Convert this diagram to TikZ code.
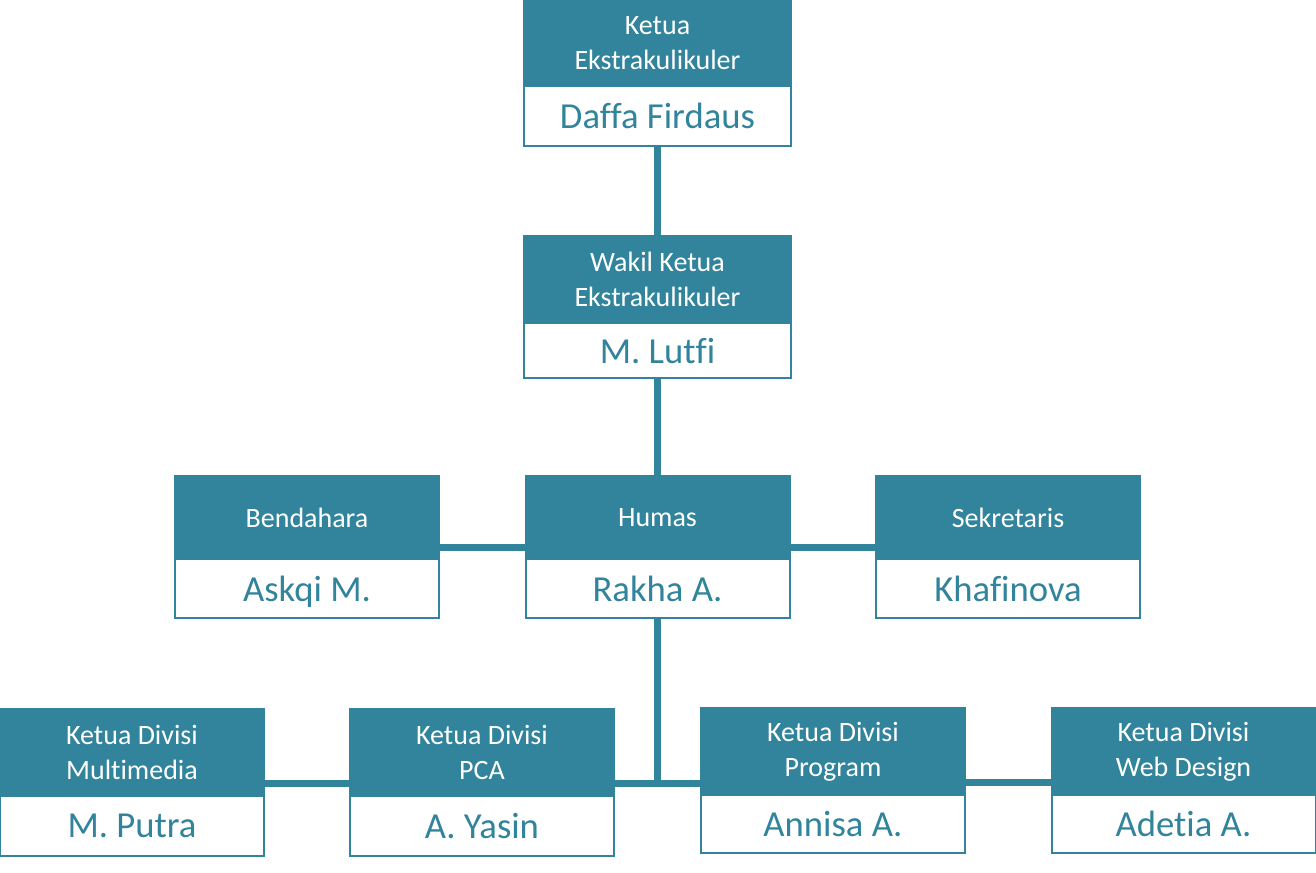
\documentclass[tikz,border=0pt]{standalone}
\usepackage{fontspec}
\setmainfont[Ligatures={NoCommon,NoContextual},RawFeature={-liga;-clig;-dlig;-calt}]{Carlito}
\usetikzlibrary{positioning}
\definecolor{orgteal}{HTML}{31849B}
\tikzset{
  kepala/.style={rectangle, fill=orgteal, draw=orgteal, line width=1.5pt,
    text=white, minimum width=198pt, minimum height=65.25pt, inner sep=0pt,
    outer sep=0pt, align=center, font=\fontsize{21}{26}\selectfont},
  nama/.style={rectangle, fill=white, draw=orgteal, line width=1.5pt,
    text=orgteal, minimum width=198pt, minimum height=45pt, inner sep=0pt,
    outer sep=0pt, text depth=0pt, font=\fontsize{27.5}{33}\selectfont},
  garis/.style={draw=orgteal, line width=5.25pt}
}

\begin{document}
\begin{tikzpicture}[x=0.75pt,y=-0.75pt]
      \useasboundingbox (0,0) rectangle (1316,872);
      % pimpinan
      \node[kepala, minimum width=200pt, minimum height=64.5pt] (ketua) at (657.5,43) {Ketua\\Ekstrakulikuler};
      \node[nama, minimum width=200pt, below=0pt of ketua] (ketua-nama) {Daffa Firdaus};
      \node[kepala, minimum width=200pt] (wakil) at (657.5,279.5) {Wakil Ketua\\Ekstrakulikuler};
      \node[nama, minimum width=200pt, minimum height=41.25pt, below=0pt of wakil] (wakil-nama) {M. Lutfi};
      % pengurus inti
      \node[kepala, minimum height=62.25pt] (humas) at (657.5,517.5) {Humas};
      \node[nama, minimum height=44.25pt, below=0pt of humas] (humas-nama) {Rakha A.};
      \node[kepala, minimum height=62.25pt] (bendahara) at (307,517.5) {Bendahara};
      \node[nama, minimum height=44.25pt, below=0pt of bendahara] (bendahara-nama) {Askqi M.};
      \node[kepala, minimum height=62.25pt] (sekretaris) at (1008,517.5) {Sekretaris};
      \node[nama, minimum height=44.25pt, below=0pt of sekretaris] (sekretaris-nama) {Khafinova};
      % divisi
      \node[kepala] (multimedia) at (132,752.5) {Ketua Divisi\\Multimedia};
      \node[nama, below=0pt of multimedia] (multimedia-nama) {M. Putra};
      \node[kepala] (pca) at (482,752.5) {Ketua Divisi\\PCA};
      \node[nama, below=0pt of pca] (pca-nama) {A. Yasin};
      \node[kepala] (program) at (833,751.5) {Ketua Divisi\\Program};
      \node[nama, minimum height=43.5pt, below=0pt of program] (program-nama) {Annisa A.};
      \node[kepala] (webdesign) at (1183.5,751.5) {Ketua Divisi\\Web Design};
      \node[nama, minimum height=43.5pt, below=0pt of webdesign] (webdesign-nama) {Adetia A.};
      % garis
      \draw[garis] (ketua-nama) -- (wakil);
      \draw[garis] (wakil-nama) -- (humas);
      \draw[garis] ([yshift=9pt]bendahara.south east) -- ([yshift=9pt]humas.south west);
      \draw[garis] ([yshift=9pt]humas.south east) -- ([yshift=9pt]sekretaris.south west);
      \coordinate (simpul) at ([yshift=9.75pt]pca.south east);
      \draw[garis] (humas-nama) -- (humas-nama.south |- simpul);
      \draw[garis] ([yshift=9.75pt]multimedia.south east) -- ([yshift=9.75pt]pca.south west);
      \draw[garis] (simpul) -- (simpul -| program.west);
      \draw[garis] ([yshift=9.75pt]program.south east) -- ([yshift=9.75pt]webdesign.south west);
\end{tikzpicture}
\end{document}
